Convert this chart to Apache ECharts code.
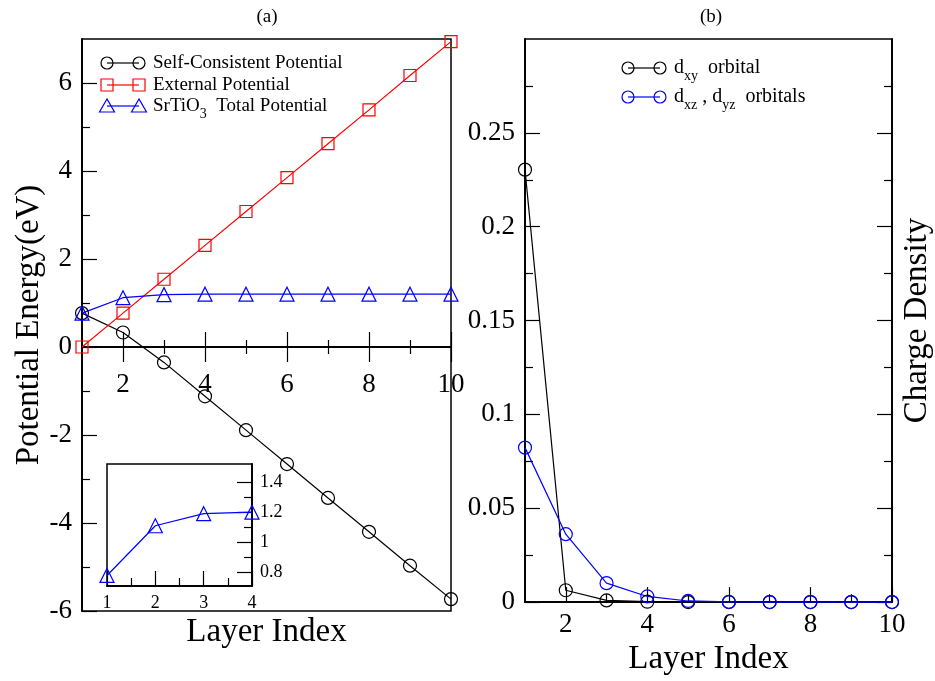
<!DOCTYPE html>
<html>
<head>
<meta charset="utf-8">
<script src="https://cdn.jsdelivr.net/npm/echarts@6/dist/echarts.min.js"></script>
<style>
  html, body { margin: 0; padding: 0; background: #fff; }
  #main { width: 935px; height: 681px; }
</style>
</head>
<body>
<div id="main"></div>
<script>
// --- data ---
const layers = [1, 2, 3, 4, 5, 6, 7, 8, 9, 10];
const selfConsistent = [0.77, 0.33, -0.35, -1.12, -1.89, -2.66, -3.43, -4.2, -4.97, -5.73];
const externalPot = [0, 0.77, 1.54, 2.31, 3.08, 3.85, 4.62, 5.39, 6.17, 6.94];
const totalPot = [0.77, 1.12, 1.19, 1.2, 1.2, 1.2, 1.2, 1.2, 1.2, 1.2];
const insetLayers = [1, 2, 3, 4];
const insetTotal = [0.78, 1.11, 1.19, 1.2];
const dxy = [0.2304, 0.0063, 0.0009, 0.0002, 0, 0, 0, 0, 0, 0];
const dxzyz = [0.0823, 0.0362, 0.0101, 0.003, 0.0006, 0.0001, 0, 0, 0, 0];

// tick positions
const layerMajor = [2, 4, 6, 8, 10];
const layerMinor = [3, 5, 7, 9];
const energyMajor = [-6, -4, -2, 0, 2, 4, 6];
const energyMinor = [-5, -3, -1, 1, 3, 5];
const insetXMajor = [1, 2, 3, 4];
const insetXMinor = [1.5, 2.5, 3.5];
const insetYMajor = [0.8, 1, 1.2, 1.4];
const insetYMinor = [0.9, 1.1, 1.3];
const densMajor = [0, 0.05, 0.1, 0.15, 0.2, 0.25];
const densMinor = [0.025, 0.075, 0.125, 0.175, 0.225, 0.275];

const FONT = 'Liberation Serif';
const BLACK = '#000000', RED = '#ff0000', BLUE = '#0000ff';

const pairs = (xs, ys) => xs.map((x, i) => [x, ys[i]]);

// one axis that only draws a set of ticks (and maybe labels)
function tickAxis(opt) {
  const ax = {
    type: 'value',
    gridIndex: opt.grid,
    position: opt.position,
    min: opt.min,
    max: opt.max,
    axisLine: {
      show: opt.line !== false,
      onZero: !!opt.onZero,
      lineStyle: { color: BLACK, width: 1.5 }
    },
    axisTick: {
      show: true,
      inside: !!opt.inside,
      length: opt.len,
      customValues: opt.ticks,
      lineStyle: { color: BLACK, width: 1.2 }
    },
    axisLabel: { show: false },
    splitLine: { show: false }
  };
  if (opt.onZero) ax.axisLine.onZeroAxisIndex = opt.onZeroIndex;
  if (opt.labels) {
    ax.axisLabel = {
      show: true,
      customValues: opt.labels,
      margin: opt.margin,
      color: BLACK,
      fontFamily: FONT,
      fontSize: opt.fontSize
    };
  }
  return ax;
}

const nameStyle = { color: BLACK, fontFamily: FONT, fontSize: 33 };

const xAxes = [
  // (a) name only, on the frame bottom
  {
    type: 'value', gridIndex: 0, position: 'bottom', min: 1, max: 10,
    axisLine: { show: false, onZero: false }, axisTick: { show: false },
    axisLabel: { show: false }, splitLine: { show: false },
    name: 'Layer Index', nameLocation: 'middle', nameGap: 5, nameTextStyle: nameStyle
  },
  // labels of an on-zero axis stay at the frame edge, so pull them up to the zero line
  tickAxis({ grid: 0, position: 'bottom', min: 1, max: 10, onZero: true, onZeroIndex: 0,
    ticks: layerMajor, len: 15, labels: layerMajor, margin: -240, fontSize: 27 }),
  tickAxis({ grid: 0, position: 'top', min: 1, max: 10, onZero: true, onZeroIndex: 0,
    ticks: layerMajor, len: 15 }),
  tickAxis({ grid: 0, position: 'bottom', min: 1, max: 10, onZero: true, onZeroIndex: 0,
    ticks: layerMinor, len: 7 }),
  tickAxis({ grid: 0, position: 'top', min: 1, max: 10, onZero: true, onZeroIndex: 0,
    ticks: layerMinor, len: 7 }),
  // inset
  tickAxis({ grid: 1, position: 'bottom', min: 1, max: 4, inside: true,
    ticks: insetXMajor, len: 15, labels: insetXMajor, margin: 8, fontSize: 18 }),
  tickAxis({ grid: 1, position: 'bottom', min: 1, max: 4, inside: true,
    ticks: insetXMinor, len: 8 }),
  // (b)
  Object.assign(tickAxis({ grid: 2, position: 'bottom', min: 1, max: 10, inside: true,
    ticks: layerMajor, len: 15, labels: layerMajor, margin: 9, fontSize: 27 }),
    { name: 'Layer Index', nameLocation: 'middle', nameGap: 33, nameTextStyle: nameStyle }),
  tickAxis({ grid: 2, position: 'bottom', min: 1, max: 10, inside: true,
    ticks: layerMinor, len: 8 })
];

const yAxes = [
  Object.assign(tickAxis({ grid: 0, position: 'left', min: -6, max: 7, inside: true,
    ticks: energyMajor, len: 15, labels: energyMajor, margin: 10, fontSize: 27 }),
    { name: 'Potential Energy(eV)', nameLocation: 'middle', nameGap: 33, nameTextStyle: nameStyle }),
  tickAxis({ grid: 0, position: 'left', min: -6, max: 7, inside: true,
    ticks: energyMinor, len: 8 }),
  // inset, labels on the right
  tickAxis({ grid: 1, position: 'right', min: 0.71, max: 1.52, inside: true,
    ticks: insetYMajor, len: 15, labels: insetYMajor, margin: 8, fontSize: 18 }),
  tickAxis({ grid: 1, position: 'right', min: 0.71, max: 1.52, inside: true,
    ticks: insetYMinor, len: 8 }),
  // (b)
  tickAxis({ grid: 2, position: 'left', min: 0, max: 0.3, inside: true,
    ticks: densMajor, len: 15, labels: densMajor, margin: 10, fontSize: 27 }),
  tickAxis({ grid: 2, position: 'left', min: 0, max: 0.3, inside: true,
    ticks: densMinor, len: 8 }),
  Object.assign(tickAxis({ grid: 2, position: 'right', min: 0, max: 0.3, inside: true,
    ticks: densMajor, len: 15 }),
    { name: 'Charge Density', nameLocation: 'middle', nameGap: 9, nameTextStyle: nameStyle }),
  tickAxis({ grid: 2, position: 'right', min: 0, max: 0.3, inside: true,
    ticks: densMinor, len: 8 })
];

function lineSeries(name, xi, yi, data, color, symbol, size) {
  return {
    name: name,
    type: 'line',
    xAxisIndex: xi,
    yAxisIndex: yi,
    data: data,
    symbol: symbol,
    symbolSize: size,
    clip: false,
    itemStyle: { color: 'rgba(0,0,0,0)', borderColor: color, borderWidth: 1.2 },
    lineStyle: { color: color, width: 1.2 },
    emphasis: { disabled: true }
  };
}

// legend drawn by hand, xmgrace style: marker - line - marker
function legendRow(x1, x2, y, shape, color, text, size) {
  const mk = (cx) => {
    const st = { fill: 'none', stroke: color, lineWidth: 1.2 };
    if (shape === 'circle') return { type: 'circle', shape: { cx: cx, cy: y, r: 6 }, style: st };
    if (shape === 'rect') return { type: 'rect', shape: { x: cx - 6, y: y - 6, width: 12, height: 12 }, style: st };
    return { type: 'polygon', shape: { points: [[cx, y - 7], [cx - 7.5, y + 6], [cx + 7.5, y + 6]] }, style: st };
  };
  return [
    { type: 'line', shape: { x1: x1, y1: y, x2: x2, y2: y }, style: { stroke: color, lineWidth: 1.2 } },
    mk(x1), mk(x2),
    {
      type: 'text', x: x2 + 14, y: y,
      style: {
        text: text, fill: BLACK, verticalAlign: 'middle', align: 'left',
        rich: {
          n: { fontFamily: FONT, fontSize: size, lineHeight: 30, fill: BLACK },
          s: { fontFamily: FONT, fontSize: 14, lineHeight: 14, verticalAlign: 'bottom', fill: BLACK }
        }
      }
    }
  ];
}

const graphics = [].concat(
  legendRow(107, 139, 63, 'circle', BLACK, '{n|Self-Consistent Potential}', 19),
  legendRow(107, 139, 85, 'rect', RED, '{n|External Potential}', 19),
  legendRow(107, 139, 106, 'triangle', BLUE, '{n|SrTiO}{s|3}{n|  Total Potential}', 19),
  legendRow(628, 660, 68, 'circle', BLACK, '{n|d}{s|xy}{n|  orbital}', 20),
  legendRow(628, 660, 97, 'circle', BLUE, '{n|d}{s|xz}{n| , d}{s|yz}{n|  orbitals}', 20)
);

const chart = echarts.init(document.getElementById('main'));
chart.setOption({
  animation: false,
  backgroundColor: '#ffffff',
  title: [
    { text: '(a)', left: 262, top: 3, textAlign: 'center',
      textStyle: { fontFamily: FONT, fontSize: 19, fontWeight: 'normal', color: BLACK } },
    { text: '(b)', left: 706, top: 3, textAlign: 'center',
      textStyle: { fontFamily: FONT, fontSize: 19, fontWeight: 'normal', color: BLACK } }
  ],
  grid: [
    { left: 82, top: 39, width: 369, height: 572, show: true, borderColor: BLACK, borderWidth: 1.5 },
    { left: 107, top: 464, width: 145, height: 122, show: true, borderColor: BLACK, borderWidth: 1.5 },
    { left: 525, top: 39, width: 368, height: 572, show: true, borderColor: BLACK, borderWidth: 1.5 }
  ],
  xAxis: xAxes,
  yAxis: yAxes,
  series: [
    lineSeries('Self-Consistent Potential', 1, 0, pairs(layers, selfConsistent), BLACK, 'circle', 13),
    lineSeries('External Potential', 1, 0, pairs(layers, externalPot), RED, 'rect', 12),
    lineSeries('SrTiO3 Total Potential', 1, 0, pairs(layers, totalPot), BLUE, 'triangle', 14),
    lineSeries('SrTiO3 Total Potential (inset)', 5, 2, pairs(insetLayers, insetTotal), BLUE, 'triangle', 14),
    lineSeries('dxy orbital', 7, 4, pairs(layers, dxy), BLACK, 'circle', 13),
    lineSeries('dxz, dyz orbitals', 7, 4, pairs(layers, dxzyz), BLUE, 'circle', 13)
  ],
  graphic: graphics
});
</script>
</body>
</html>
